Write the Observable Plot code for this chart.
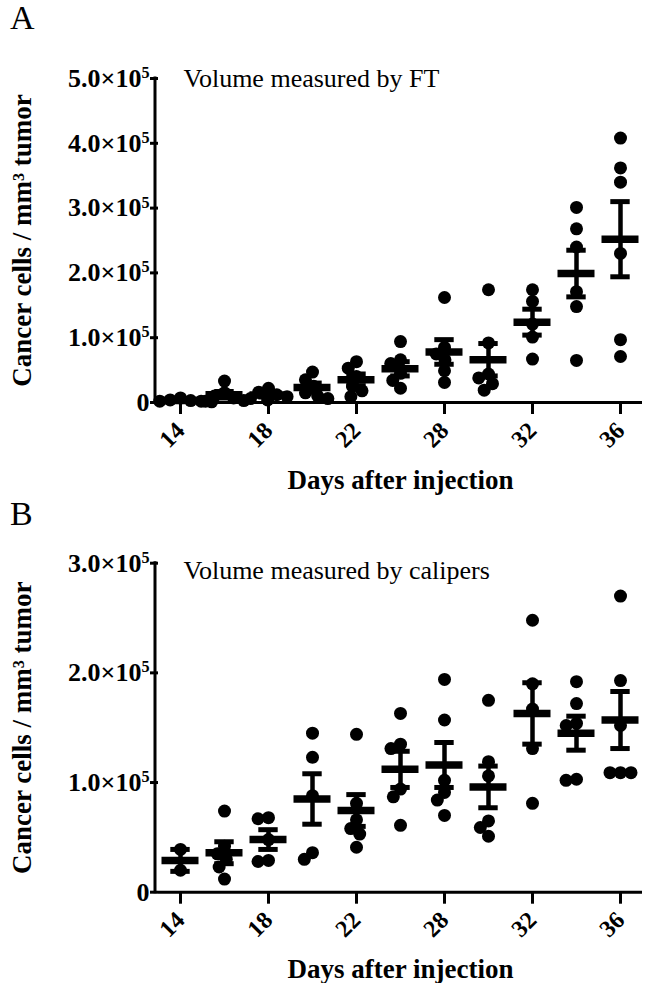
<!DOCTYPE html>
<html>
<head>
<meta charset="utf-8">
<script src="https://cdn.jsdelivr.net/npm/d3@7"></script>
<script src="https://cdn.jsdelivr.net/npm/@observablehq/plot@0.6"></script>
<style>
  html, body { margin: 0; padding: 0; background: #fff; }
  #wrap { width: 651px; height: 983px; position: relative; overflow: hidden; }
  #wrap svg { display: block; }
  .letter { position: absolute; left: 10px; font-family: 'Liberation Serif', 'Times New Roman', Times, serif;
            font-size: 34px; line-height: 34px; color: #000; }
</style>
</head>
<body>
<div id="wrap"></div>
<script>
// ---- data (cell counts in units of 1e5 cancer cells / mm^3) ----
const days = ["14", "16", "18", "20", "22", "25", "28", "30", "32", "34", "36"];
const tickDays = ["14", "18", "22", "28", "32", "36"];

// Panel A: volume measured by FT
const ftValues = [
  [0.07, 0.04, 0.03, 0.02, 0.02, 0.01],
  [0.33, 0.15, 0.10, 0.07, 0.03, 0.02],
  [0.22, 0.16, 0.12, 0.09, 0.06, 0.04],
  [0.47, 0.35, 0.25, 0.15, 0.10, 0.06],
  [0.63, 0.53, 0.40, 0.25, 0.18, 0.09],
  [0.94, 0.66, 0.60, 0.45, 0.34, 0.22],
  [1.62, 0.85, 0.75, 0.66, 0.49, 0.31],
  [1.74, 0.92, 0.44, 0.38, 0.29, 0.19],
  [1.74, 1.56, 1.21, 1.01, 0.67],
  [3.01, 2.68, 2.40, 1.71, 1.48, 0.65],
  [4.08, 3.62, 3.40, 2.30, 0.97, 0.71]
];
const ftMeans = [0.03, 0.12, 0.115, 0.23, 0.35, 0.52, 0.78, 0.66, 1.24, 1.99, 2.52];
const ftSems  = [0.01, 0.05, 0.03, 0.07, 0.09, 0.11, 0.19, 0.25, 0.20, 0.36, 0.58];

// Panel B: volume measured by calipers
const calValues = [
  [0.39, 0.20],
  [0.74, 0.42, 0.35, 0.30, 0.23, 0.12],
  [0.68, 0.67, 0.48, 0.29, 0.28],
  [1.45, 1.23, 0.88, 0.36, 0.30],
  [1.44, 0.81, 0.66, 0.58, 0.53, 0.41],
  [1.63, 1.35, 1.31, 0.94, 0.87, 0.61],
  [1.94, 1.57, 1.02, 0.91, 0.84, 0.70],
  [1.75, 1.19, 1.06, 0.65, 0.59, 0.51],
  [2.48, 1.90, 1.67, 1.31, 0.81],
  [1.92, 1.72, 1.54, 1.52, 1.03, 1.02],
  [2.70, 1.93, 1.52, 1.09, 1.09, 1.09]
];
const calMeans = [0.29, 0.36, 0.48, 0.85, 0.745, 1.12, 1.16, 0.96, 1.63, 1.45, 1.57];
const calSems  = [0.10, 0.10, 0.09, 0.23, 0.145, 0.165, 0.205, 0.19, 0.28, 0.155, 0.26];

const yTicksA = [0, 1, 2, 3, 4, 5];
const yTicksB = [0, 1, 2, 3];
const yLabel = "Cancer cells / mm\u00B3 tumor";
const xLabel = "Days after injection";

const FONT = "'Liberation Serif', 'Times New Roman', Times, serif";

function panel({values, means, sems, yTicks, height, marginTop, marginBottom, caption, captionDy}) {
  const rows = days.flatMap((d, i) => values[i].map(v => ({day: d, v})));
  const stats = days.map((d, i) => ({day: d, mean: means[i], lo: means[i] - sems[i], hi: means[i] + sems[i]}));
  const chart = Plot.plot({
    width: 651,
    height,
    marginTop,
    marginBottom,
    marginLeft: 155,
    marginRight: 5.4,
    style: {fontFamily: FONT, color: "black", background: "white", overflow: "visible"},
    fx: {domain: days, padding: 0},
    y: {domain: [0, d3.max(yTicks)]},
    marks: [
      Plot.ruleY([0], {strokeWidth: 3}),
      Plot.dot(rows, Plot.dodgeX({anchor: "middle", padding: -2.5}, {fx: "day", y: "v", r: 6.5, fill: "black", stroke: "none"})),
      Plot.ruleX(stats, {fx: "day", x: null, y1: "lo", y2: "hi", strokeWidth: 4.5}),
      Plot.tickY(stats, {fx: "day", y: "lo", strokeWidth: 5, insetLeft: 12.3, insetRight: 12.3}),
      Plot.tickY(stats, {fx: "day", y: "hi", strokeWidth: 5, insetLeft: 12.3, insetRight: 12.3}),
      Plot.tickY(stats, {fx: "day", y: "mean", strokeWidth: 7.5, insetLeft: 3.5, insetRight: 3.5}),
      Plot.text([{day: "14", label: caption}], {fx: "day", text: "label", frameAnchor: "top-left", textAnchor: "start", dx: 25, dy: captionDy, fontSize: 26}),
      Plot.axisY({
        ticks: yTicks,
        tickSize: 8,
        tickPadding: 1,
        strokeWidth: 3,
        tickFormat: d => d === 0 ? "0" : d.toFixed(1) + "\u00D710^5",
        fontSize: 26,
        fontWeight: "bold",
        label: yLabel,
        labelAnchor: "center",
        labelArrow: false,
        labelOffset: 147
      }),
      Plot.axisFx({
        anchor: "bottom",
        ticks: tickDays,
        tickSize: 12,
        tickPadding: 12,
        strokeWidth: 3,
        tickRotate: -45,
        fontSize: 24,
        fontWeight: "bold",
        label: xLabel,
        labelAnchor: "center",
        labelArrow: false,
        labelOffset: 86
      })
    ]
  });

  const svg = d3.select(chart.tagName.toLowerCase() === "svg" ? chart : chart.querySelector("svg"));
  // superscript exponents on the y tick labels
  svg.selectAll("text").each(function () {
    const t = this.textContent;
    if (t.includes("^") && this.children.length === 0) {
      const [base, exp] = t.split("^");
      const s = d3.select(this);
      s.text(base);
      s.append("tspan").attr("dy", "-0.55em").attr("font-size", "0.62em").text(exp);
    }
  });
  // axis titles a bit larger
  svg.selectAll("g[aria-label='y-axis label'], g[aria-label='fx-axis label']")
    .attr("font-size", 27).attr("font-weight", "bold");
  // y-axis line
  svg.append("line")
    .attr("x1", 155).attr("x2", 155)
    .attr("y1", marginTop - 1.5).attr("y2", height - marginBottom + 1.5)
    .attr("stroke", "black").attr("stroke-width", 3);
  return chart;
}

const wrap = document.getElementById("wrap");
wrap.appendChild(panel({
  values: ftValues, means: ftMeans, sems: ftSems, yTicks: yTicksA,
  height: 495, marginTop: 78, marginBottom: 93,
  caption: "Volume measured by FT", captionDy: -10
}));
wrap.appendChild(panel({
  values: calValues, means: calMeans, sems: calSems, yTicks: yTicksB,
  height: 488, marginTop: 67.7, marginBottom: 91.3,
  caption: "Volume measured by calipers", captionDy: -3
}));

// panel letters
const letters = [{t: "A", top: 1}, {t: "B", top: 497}];
for (const L of letters) {
  const div = document.createElement("div");
  div.className = "letter";
  div.style.top = L.top + "px";
  div.textContent = L.t;
  wrap.appendChild(div);
}
</script>
</body>
</html>
